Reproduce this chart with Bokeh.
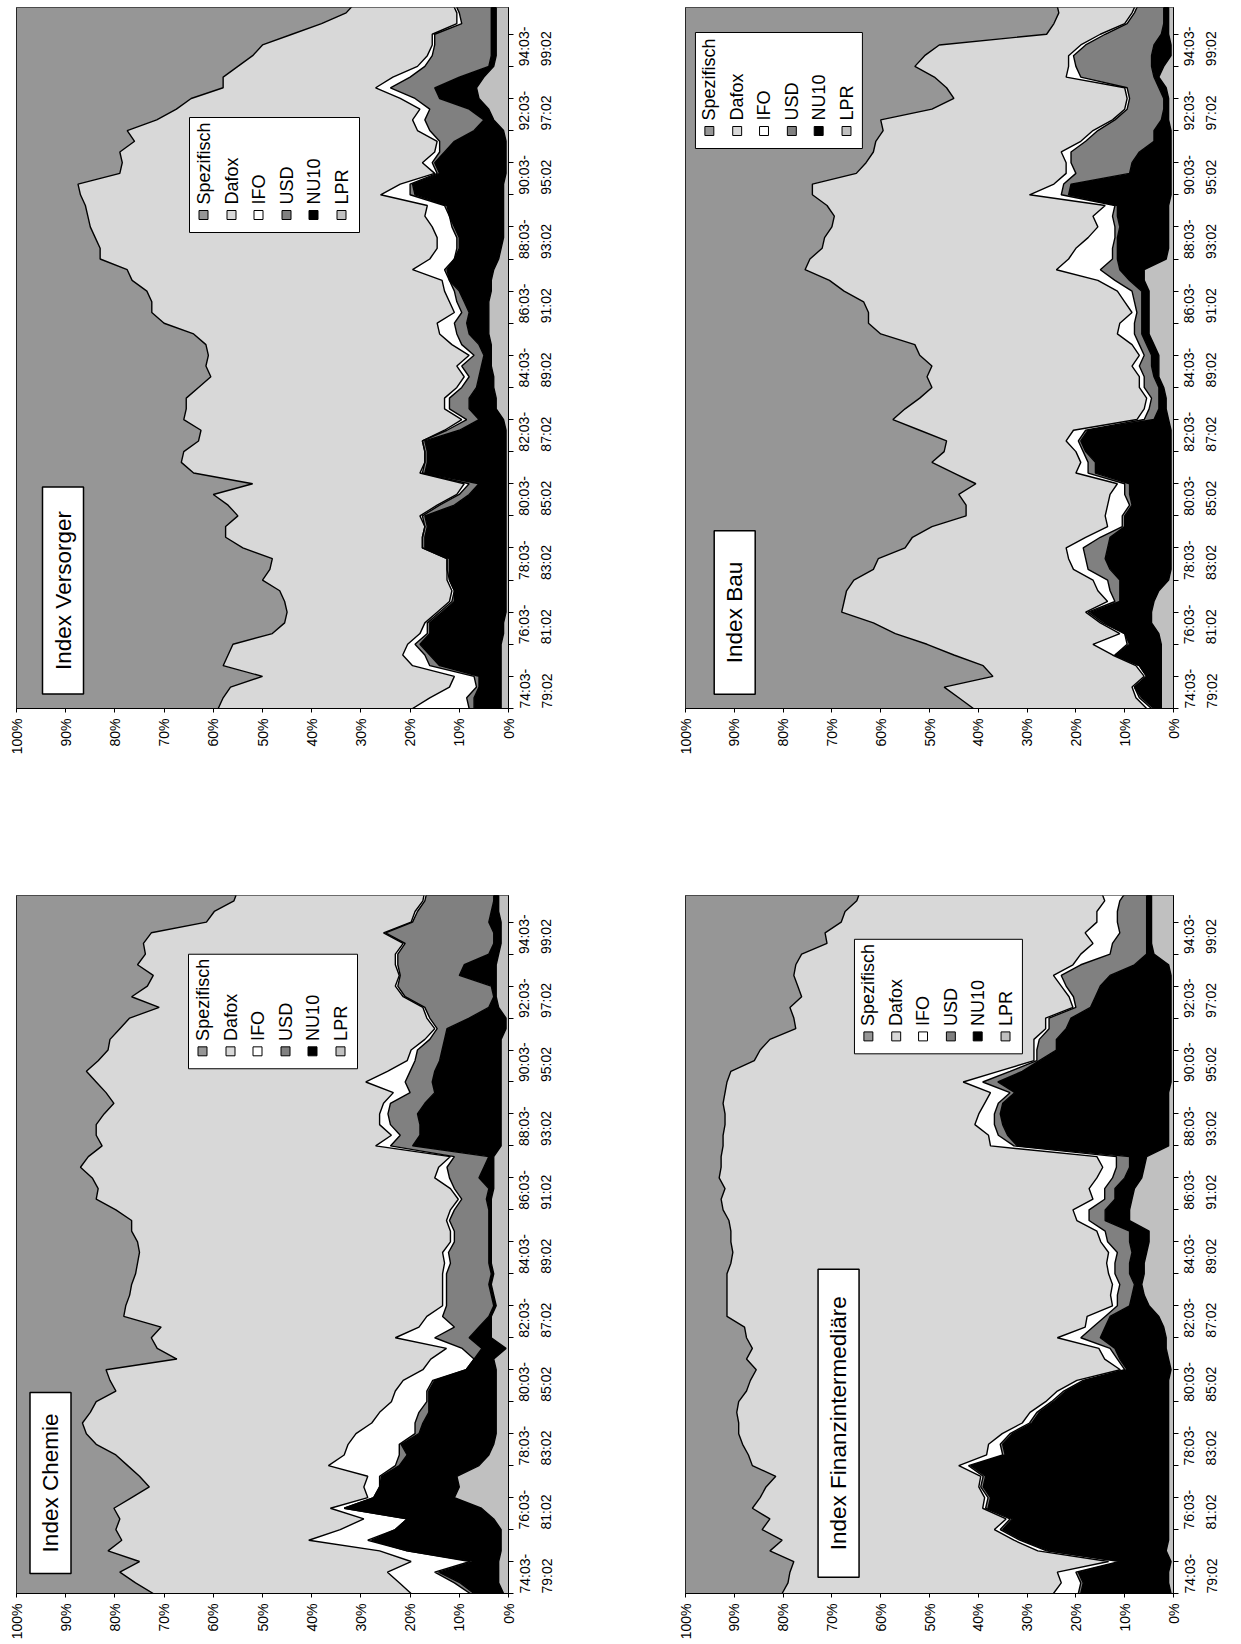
import math
from bokeh.plotting import figure
from bokeh.models import ColumnDataSource, Range1d, FixedTicker, Label, LinearAxis
from bokeh.layouts import column, row
from bokeh.embed import file_html
from bokeh.resources import INLINE

# ---------------------------------------------------------------- data
# rolling 5-year windows, position = months after 1974:03 (window start), every 4 months
window_start = [0, 4, 8, 12, 16, 20, 24, 28, 32, 36, 40, 44, 48, 52, 56, 60, 64, 68, 72, 76,
                80, 84, 88, 92, 96, 100, 104, 108, 112, 116, 120, 124, 128, 132, 136, 140,
                144, 148, 152, 156, 160, 164, 168, 172, 176, 180, 184, 188, 192, 196, 200,
                204, 208, 212, 216, 220, 224, 228, 232, 236, 240, 244, 248, 252, 256, 260, 264]
window_ticks = [0, 12, 24, 36, 48, 60, 72, 84, 96, 108, 120, 132, 144, 156, 168, 180, 192,
                204, 216, 228, 240, 252]
window_labels = {0: "74:03-79:02", 24: "76:03-81:02", 48: "78:03-83:02",
                 72: "80:03-85:02", 96: "82:03-87:02", 120: "84:03-89:02",
                 144: "86:03-91:02", 168: "88:03-93:02", 192: "90:03-95:02",
                 216: "92:03-97:02", 240: "94:03-99:02"}
percent_ticks = [0, 10, 20, 30, 40, 50, 60, 70, 80, 90, 100]
series_names = ["Spezifisch", "Dafox", "IFO", "USD", "NU10", "LPR"]
series_colors = ["#969696", "#d8d8d8", "#ffffff", "#808080", "#000000", "#c0c0c0"]

# Index Versorger (shares in %)
versorger_lpr = [1.5, 1.5, 1.5, 1.5, 1.5, 1.5, 1.5, 1, 1, 0.5,
                 0.5, 0.5, 0.5, 0.5, 0.5, 0.5, 0.5, 0.5, 0.5, 0.5,
                 0.5, 0.5, 0.5, 0.5, 0.5, 0.5, 0.5, 1, 2.5, 2.5,
                 3, 3, 3.5, 3.5, 3.5, 4, 4, 4, 4, 3.5,
                 3.5, 3, 2, 1.5, 1, 1, 1, 1, 1, 1,
                 0.5, 0.5, 0.5, 0.5, 1, 3, 4, 6, 6.5, 5,
                 3, 2.5, 2.5, 2.5, 2.5, 2.5, 2.5]
versorger_nu10 = [5.5, 5.5, 4.5, 4.5, 12.5, 14.5, 16.5, 15, 15, 13,
                  10.5, 10.5, 11.5, 11.5, 11.5, 16.5, 16.5, 16, 16.5, 10.5,
                  7.5, 5.5, 16.5, 16, 16, 16.5, 9.5, 5, 5.5, 5.5,
                  3.5, 3, 2, 1.5, 2.5, 4, 4.5, 4, 5, 6.5,
                  8.5, 9.5, 9, 8.5, 9, 10, 11, 11.5, 18, 18.5,
                  13.5, 14.5, 12.5, 10.5, 6, 2, 4, 8, 8.5, 5,
                  1, 1, 1, 1, 1, 1, 1]
versorger_usd = [1, 1.5, 0.5, 1, 2, 1, 1, 0.5, 0.5, 0.5,
                 0.5, 0, 0, 0.5, 0.5, 0.5, 0.5, 0.5, 0.5, 3,
                 2, 2, 0.5, 0.5, 0.5, 0.5, 2.5, 2.5, 4, 4,
                 3, 2, 4, 2, 3.5, 2.5, 2.5, 1.5, 1.5, 1,
                 0, 0.5, 0, 0.5, 0.5, 0.5, 0, 0.5, 1, 0.5,
                 0.5, 0.5, 1, 3, 9, 12, 8, 5, 9, 10,
                 13, 12, 11.5, 11.5, 6, 6.5, 7.5]
versorger_ifo = [11.5, 7.5, 5.5, 4, 3.5, 4.5, 1.5, 1.5, 0.5, 0.5,
                 0.5, 0.5, 0.5, 0, 0, 0, 0, 0, 0.5, 0.5,
                 0.5, 1, 0.5, 0, 0, 0, 0.5, 1, 1, 1,
                 1, 1, 1, 1, 2, 3.5, 3.5, 1.5, 1.5, 2,
                 1.5, 6.5, 5, 4, 4, 4, 5, 3.5, 6, 2,
                 0.5, 2, 1, 0.5, 2.5, 2.5, 2, 3, 3, 3.5,
                 1.5, 1, 0.5, 0.5, 1, 0.5, 0.5]
versorger_dafox = [39.5, 42, 44.5, 39, 38.5, 35.5, 35.5, 30, 28.5, 30.5,
                   33.5, 35, 37.5, 36, 35.5, 36.5, 40, 40.5, 37, 42.5,
                   49.5, 43, 46, 49.5, 49, 45.5, 49.5, 56.5, 52.5, 52.5,
                   52.5, 51.5, 51, 53, 50, 50, 55.5, 61.5, 60.5, 60.5,
                   63, 58, 67, 68.5, 69.5, 69.5, 68.5, 69.5, 61, 65.5,
                   64, 61, 64, 61.5, 59, 52, 49.5, 42.5, 31, 34.5,
                   36.5, 35.5, 34.5, 28.5, 27.5, 22.5, 19.5]
versorger_spezifisch = [41, 42, 43.5, 50, 42, 43, 44, 52, 54.5, 55,
                        54.5, 53.5, 50, 51.5, 52, 46, 42.5, 42.5, 45, 43,
                        40, 48, 36, 33.5, 34, 37, 37.5, 34, 34.5, 34.5,
                        37, 39.5, 38.5, 39, 38.5, 36, 30, 27.5, 27.5, 26.5,
                        23.5, 22.5, 17, 17, 16, 15, 14.5, 14, 13, 12.5,
                        21, 21.5, 21, 24, 22.5, 28.5, 32.5, 35.5, 42, 42,
                        45, 48, 50, 56, 62, 67, 69]

# Index Bau
bau_lpr = [2.5, 2.5, 2.5, 2.5, 2.5, 2.5, 2.5, 3, 4.5, 4.5,
           4, 3, 1, 0.5, 0.5, 0.5, 0.5, 0.5, 0.5, 0.5,
           0.5, 0.5, 0.5, 0.5, 0.5, 0.5, 0.5, 1, 1.5, 1.5,
           2, 3, 3, 3, 4, 5, 5, 5, 5, 5,
           6, 6, 1.5, 1, 1, 1, 1, 1, 0.5, 0.5,
           0.5, 0.5, 0.5, 0.5, 0.5, 1, 1, 1, 1.5, 3,
           2, 0.5, 0.5, 1, 1, 1, 1]
bau_nu10 = [1.5, 4, 5.5, 3, 4.5, 9.5, 6.5, 7, 9.5, 12.5,
            7, 8, 10, 12.5, 13.5, 13, 12.5, 9.5, 9.5, 8,
            8.5, 8.5, 15.5, 15.5, 17.5, 18.5, 17, 3, 1.5, 1.5,
            1, 1, 1.5, 1.5, 1.5, 1.5, 1.5, 1.5, 1.5, 1.5,
            3, 5, 10, 10.5, 10.5, 10, 10.5, 10.5, 21, 20.5,
            8.5, 8, 6.5, 3.5, 3.5, 1.5, 1, 1, 1.5, 1,
            2.5, 4, 3.5, 1.5, 1, 1, 1]
bau_usd = [0.5, 0.5, 0, 0, 0, 0, 0.5, 0, 0.5, 0.5,
           1, 2, 2.5, 4.5, 4, 5, 2, 0.5, 0.5, 0.5,
           1, 1, 1.5, 1.5, 0.5, 0.5, 0.5, 2, 2, 1.5,
           3, 2, 2.5, 1.5, 1.5, 1.5, 1.5, 1, 1.5, 2,
           3, 4, 1, 1, 0.5, 1, 1, 0.5, 1.5, 1.5,
           11, 12.5, 14, 14, 11.5, 9.5, 7.5, 7, 6.5, 15,
           15.5, 16, 14, 11.5, 7.5, 6, 5]
bau_ifo = [1, 0.7, 0.5, 0.5, 0.7, 0.5, 7, 1, 0.5, 0.5,
           1.5, 2.5, 3, 3, 3.5, 3.5, 3, 3, 3.5, 4.5,
           3, 1.5, 2.5, 1.5, 1.5, 2.5, 2.5, 1.5, 1, 1,
           1, 1, 1.5, 1, 1.5, 3.5, 3, 1, 2, 3,
           3.5, 9, 9, 7.5, 5.5, 3.5, 4, 2, 6.5, 2,
           2, 1, 2, 1, 1, 0.5, 0.5, 0.5, 0.5, 3,
           1.5, 1, 1, 1, 0.5, 0.5, 0.5]
bau_dafox = [35.5, 36.3, 38.5, 31, 31.3, 32.5, 34, 46, 46.5, 50,
             54, 51.5, 49, 41, 39, 33, 35.5, 36, 28.5, 29,
             31, 29, 25, 30.5, 27, 24.5, 31.5, 50, 49, 46.5,
             42.5, 43.5, 41, 45, 44.5, 48.5, 51.5, 54, 53.5, 56,
             55, 51.5, 53, 52, 54, 54.5, 53, 57, 44.5, 49.5,
             43, 41, 38.5, 42, 43, 47.5, 39.5, 35.5, 36.5, 27,
             31.5, 29.5, 29, 11, 14.5, 15, 16.5]
bau_spezifisch = [59, 56, 53, 63, 61, 55, 49.5, 43, 38.5, 32,
                  32.5, 33, 34.5, 38.5, 39.5, 45, 46.5, 50.5, 57.5, 57.5,
                  56, 59.5, 55, 50.5, 53, 53.5, 48, 42.5, 45, 48,
                  50.5, 49.5, 50.5, 48, 47, 40, 37.5, 37.5, 36.5, 32.5,
                  29.5, 24.5, 25.5, 28, 28.5, 30, 30.5, 29, 26, 26,
                  35, 37, 38.5, 39, 40.5, 40, 50.5, 55, 53.5, 51,
                  47, 49, 52, 74, 75.5, 76.5, 76]

# Index Chemie
chemie_lpr = [1, 2, 2, 2, 1.5, 1.5, 1.5, 3, 5.5, 11,
              10, 10.5, 6, 4, 3, 2.5, 2.5, 2.5, 2.5, 2.5,
              2.5, 2.5, 3, 0.5, 3.5, 3.5, 3.5, 2.5, 3, 3.5,
              3, 3.5, 3.5, 3.5, 3.5, 3.5, 3.5, 3.5, 3, 3,
              3, 3, 1.5, 1.5, 1.5, 1.5, 1.5, 1.5, 1.5, 1.5,
              1.5, 1.5, 1.5, 0.5, 0.5, 2, 2.5, 2.5, 2.5, 2.5,
              2, 1.5, 1.5, 1.5, 2, 2, 2]
chemie_nu10 = [6, 7.8, 12.2, 5, 19.1, 26.3, 21.5, 17.6, 27.9, 16.4,
               16.2, 15.3, 16.2, 16.6, 18.8, 15.7, 14.9, 13.7, 13.7, 13.7,
               12.5, 6.1, 4, 4.9, 4.5, 2.5, 0.5, 0.5, 0.5, 0.5,
               0.5, 0.5, 0.5, 0.5, 0.5, 0.5, 0.5, 1, 1, 3,
               2, 1, 18, 16.5, 16.5, 17, 15.5, 13.5, 14, 13.5,
               12.5, 12, 11.5, 12, 7.5, 2, 0.5, 1, 7.5, 6.5,
               2, 1.5, 1.5, 2.5, 1.5, 1, 1]
chemie_usd = [0.8, 1.2, 0.8, 0.8, 0, 0.8, 0, 0, 0, 0,
              0, 0.4, 0.8, 1.6, 0.4, 0.8, 1.6, 2, 0.4, 0.4,
              0.4, 0, 0, 4, 7, 5, 9.4, 9.6, 9.1, 8.6,
              9.1, 7.8, 8.2, 7, 7, 8, 7, 5, 7, 6,
              7.5, 7, 4.5, 4, 6, 6, 7, 5, 5.5, 5,
              5, 5, 3, 2, 8, 13, 18, 19, 12, 13.5,
              18.5, 18, 22, 15.5, 15, 14, 13.5]
chemie_ifo = [12, 11.2, 9.6, 12, 5.6, 12, 11.2, 8.8, 2.8, 1.2,
              3.2, 2.4, 13.6, 11.2, 10.4, 12, 8.8, 8, 7.2, 6.4,
              6, 8.8, 8.8, 3.2, 8, 7.2, 3.2, 0.8, 0.8, 0.8,
              0.8, 1.2, 1.2, 0.8, 0.8, 0.6, 0.8, 0.7, 0.8, 3,
              1.7, 0.8, 3, 1.8, 2.2, 1.7, 1.4, 3.4, 8, 4.6,
              1.6, 1.3, 1, 0.5, 0.6, 0.4, 0.4, 0.5, 0.2, 0.5,
              0.5, 0.4, 0.4, 0.3, 0.5, 0.4, 0.5]
chemie_dafox = [52.4, 53.6, 54.4, 55.2, 55.2, 38, 45.6, 49.6, 44, 48,
                43.6, 46.4, 40.8, 46.4, 51.2, 54.8, 58.8, 58.8, 60, 56.8,
                59.6, 64.4, 51.6, 58.8, 49.6, 52.4, 61.6, 64.4, 63.6, 63.2,
                62.4, 62.4, 61.6, 63.6, 64.8, 64, 68, 73.6, 71.6, 69.6,
                72.8, 73.6, 55.6, 60, 57.6, 56, 54.8, 58.4, 54.8, 61.2,
                62.8, 61.6, 64, 64, 60.4, 53.6, 55.2, 50.4, 50, 52.4,
                50.8, 52.8, 47.2, 41.6, 40.8, 38.4, 38]
chemie_spezifisch = [27.8, 24.2, 21, 25, 18.6, 21.4, 20.2, 21, 19.8, 23.4,
                     27, 25, 22.6, 20.2, 16.2, 14.2, 13.4, 15, 16.2, 20.2,
                     19, 18.2, 32.6, 28.6, 27.4, 29.4, 21.8, 22.2, 23, 23.4,
                     24.2, 24.6, 25, 24.6, 23.4, 23.4, 20.2, 16.2, 16.6, 15.4,
                     13, 14.6, 17.4, 16.2, 16.2, 17.8, 19.8, 18.2, 16.2, 14.2,
                     16.6, 18.6, 19, 21, 23, 29, 23.4, 26.6, 27.8, 24.6,
                     26.2, 25.8, 27.4, 38.6, 40.2, 44.2, 45]

# Index Finanzintermediäre
finanz_lpr = [0.5, 1, 1, 0.5, 1.5, 1, 1, 1, 1, 1,
              1, 1, 1, 1, 1, 1, 1, 1, 1, 1,
              1, 0.5, 1, 1.5, 1.5, 2, 3, 5, 6, 6.5,
              6, 6, 5.5, 5, 5, 9, 9, 8.5, 8, 6.5,
              6, 5.5, 1, 1, 1, 1, 1, 1, 0.5, 0.5,
              0.5, 0.5, 0.5, 0.5, 0.5, 0.5, 0.5, 0.5, 0.5, 1,
              4, 4.5, 4.5, 4.5, 4.5, 4.5, 4.5]
finanz_nu10 = [18.5, 17.5, 18.5, 10, 24, 30, 34, 32, 37, 36.5,
               38, 37.5, 40.5, 33.5, 34, 32, 28, 26.5, 23.5, 21,
               17, 9, 10, 10.5, 13.5, 12, 10, 4, 2.5, 1.5,
               3, 3, 3, 4, 4, 5, 5, 3.5, 4, 3.5,
               3, 3.5, 31, 33, 34, 34.5, 34, 31.5, 35.5, 30.5,
               27, 23.5, 23.5, 21.5, 20.5, 16.5, 15.5, 14.5, 12.5, 7,
               1.5, 1, 1, 1, 1, 1, 1]
finanz_usd = [0.5, 0.5, 0.5, 0.5, 0.5, 0.5, 0.5, 0.5, 0.5, 0.5,
              0.5, 0.5, 0.5, 0.5, 0.5, 0.5, 0.5, 0.5, 0.5, 0.5,
              0.5, 0.5, 0.5, 1, 4, 2.5, 1, 2.5, 3, 3,
              3, 3, 3, 4.5, 5, 3.3, 3.3, 2.1, 2.1, 2.5,
              2.7, 2.7, 0.7, 1.9, 1.7, 1.2, 0.9, 1, 3.1, 2.5,
              0.5, 4, 3.5, 3.5, 4.5, 3, 4.5, 7, 10, 11,
              7.5, 7, 5.5, 6, 6, 5.5, 4]
finanz_ifo = [5.1, 4, 3.8, 2.3, 1.8, 1.2, 1.2, 0.8, 0.6, 0.7,
              0.4, 0.5, 2, 3.3, 2.4, 1.6, 1.5, 1.4, 1.2, 1.3,
              1.3, 0.9, 2.6, 2.3, 4.8, 1.6, 3.7, 1, 1.4, 1.5,
              1.3, 1.7, 1.8, 1.4, 1.7, 2.5, 3.3, 2.4, 3.2, 3.2,
              2.8, 4, 4.8, 2, 4, 3.2, 2.8, 4, 4, 2.4,
              0.6, 0.6, 1.1, 0.7, 0.7, 0.6, 0.9, 1, 1.6, 1.6,
              6, 4, 7.1, 4.2, 4.2, 3.1, 5.4]
finanz_dafox = [55.6, 56, 54.8, 64.5, 54.9, 47.5, 47.6, 48.4, 47.2, 46,
                43.6, 42, 42.3, 48.8, 50.4, 54, 58.1, 60.1, 62.9, 63.7,
                66.9, 74.6, 73.4, 71, 63.7, 69.8, 73.8, 79, 78.6, 79,
                78.2, 77, 77, 75.8, 75, 71.3, 71.7, 76.2, 74.6, 77.4,
                78.2, 77, 54.8, 54.4, 51.2, 52, 53.6, 54.4, 48.4, 54.8,
                57.3, 56.1, 54.1, 51.2, 51.6, 58, 54.8, 54, 53.2, 56.8,
                57.2, 54.5, 53.3, 52.4, 51.6, 50.8, 49.2]
finanz_spezifisch = [19.8, 21, 21.4, 22.2, 17.3, 19.8, 15.7, 17.3, 13.7, 15.3,
                     16.5, 18.5, 13.7, 12.9, 11.7, 10.9, 10.9, 10.5, 10.9, 12.5,
                     13.3, 14.5, 12.5, 13.7, 12.5, 12.1, 8.5, 8.5, 8.5, 8.5,
                     8.5, 9.3, 9.7, 9.3, 9.3, 8.9, 7.7, 7.3, 8.1, 6.9,
                     7.3, 7.3, 7.7, 7.7, 8.1, 8.1, 7.7, 8.1, 8.5, 9.3,
                     14.1, 15.3, 17.3, 22.6, 22.2, 21.4, 23.8, 23, 22.2, 22.6,
                     23.8, 29, 28.6, 31.9, 32.7, 35.1, 35.9]

# ---------------------------------------------------------------- drawing
FONT = "Liberation Sans"
T_MAX = 262
STACK_KEYS = ["lpr", "nu10", "usd", "ifo", "dafox", "spez"]
STACK_COLORS = ["#c0c0c0", "#000000", "#808080", "#ffffff", "#d8d8d8", "#969696"]
LEGEND_OFFSETS = [14, 42, 69, 97, 124, 152]


def label_part(t, part):
    if t not in window_labels:
        return ""
    first, second = window_labels[t].split("-")
    return first + "-" if part == 0 else second


def style_axis(ax, size):
    ax.major_label_orientation = math.pi / 2
    ax.major_label_text_font = FONT
    ax.major_label_text_font_size = size
    ax.major_label_text_color = "black"
    ax.major_tick_in = 0
    ax.minor_tick_out = 0
    ax.minor_tick_in = 0
    ax.axis_line_color = "black"
    ax.major_tick_line_color = "black"


def panel(title, lpr, nu10, usd, ifo, dafox, spez, width, height, bl, br, bt, bb,
          title_px, title_pad, legend_px):
    fw = width - bl - br
    fh = height - bt - bb

    def X(px):
        return 100 - px * 100.0 / fw

    def Y(py):
        return T_MAX - py * T_MAX / fh

    p = figure(width=width, height=height, x_range=Range1d(100, 0), y_range=Range1d(0, T_MAX),
               y_axis_location="right", output_backend="svg", toolbar_location=None,
               min_border_left=bl, min_border_right=br, min_border_top=bt, min_border_bottom=bb)
    p.xgrid.visible = False
    p.ygrid.visible = False
    p.outline_line_color = "black"
    p.outline_line_width = 1
    p.background_fill_color = "white"
    p.border_fill_color = "white"

    src = ColumnDataSource(dict(t=window_start, lpr=lpr, nu10=nu10, usd=usd, ifo=ifo,
                                dafox=dafox, spez=spez))
    p.harea_stack(STACK_KEYS, y="t", fill_color=STACK_COLORS, source=src)
    p.hline_stack(STACK_KEYS[:-1], y="t", line_color="black", line_width=1.4, source=src)

    xa = p.xaxis[0]
    xa.ticker = FixedTicker(ticks=percent_ticks, minor_ticks=[])
    xa.major_label_overrides = {v: "%d%%" % v for v in percent_ticks}
    style_axis(xa, "14px")
    xa.major_label_standoff = 6
    xa.major_tick_out = 4

    # time axis: first line of the window label
    ya = p.yaxis[0]
    ya.ticker = FixedTicker(ticks=window_ticks, minor_ticks=[])
    ya.major_label_overrides = {t: label_part(t, 0) for t in window_ticks}
    style_axis(ya, "14px")
    ya.major_label_standoff = 11
    ya.major_tick_out = 5

    # second line of the window label
    ya2 = LinearAxis(ticker=FixedTicker(ticks=window_ticks, minor_ticks=[]))
    ya2.major_label_overrides = {t: label_part(t, 1) for t in window_ticks}
    style_axis(ya2, "14px")
    ya2.axis_line_color = None
    ya2.major_tick_line_color = None
    ya2.major_tick_out = 0
    ya2.major_label_standoff = 3
    p.add_layout(ya2, "right")

    # title box
    tx, ty = title_px
    p.add_layout(Label(x=X(tx), y=Y(ty), text=title, angle=math.pi / 2,
                       text_align="center", text_baseline="middle",
                       text_font=FONT, text_font_size="22.5px", text_color="black",
                       background_fill_color="white", border_line_color="black",
                       border_line_width=1.5, padding=(title_pad, 8)))

    # legend
    l0, t0, r0, b0 = legend_px
    p.quad(left=[X(l0)], right=[X(r0)], top=[Y(t0)], bottom=[Y(b0)],
           fill_color="white", line_color="black", line_width=1)
    for name, color, off in zip(series_names, series_colors, LEGEND_OFFSETS):
        cx = l0 + off
        p.quad(left=[X(cx - 4.5)], right=[X(cx + 4.5)], top=[Y(b0 - 22)], bottom=[Y(b0 - 13)],
               fill_color=color, line_color="black", line_width=1)
        p.add_layout(Label(x=X(cx), y=Y(b0 - 28), text=name, angle=math.pi / 2,
                           text_align="left", text_baseline="middle",
                           text_font=FONT, text_font_size="18px", text_color="black"))
    return p


p_versorger = panel("Index Versorger", versorger_lpr, versorger_nu10, versorger_usd,
                    versorger_ifo, versorger_dafox, versorger_spezifisch,
                    615, 818, 16, 107, 7, 110, (46.5, 583), 24, (173, 110, 343, 225))
p_bau = panel("Index Bau", bau_lpr, bau_nu10, bau_usd, bau_ifo, bau_dafox, bau_spezifisch,
              615, 818, 70, 54, 7, 110, (49.5, 605), 31, (10, 25, 178, 141))
p_chemie = panel("Index Chemie", chemie_lpr, chemie_nu10, chemie_usd, chemie_ifo,
                 chemie_dafox, chemie_spezifisch,
                 615, 824, 16, 107, 77, 46, (34, 590), 21, (172, 59, 341, 174))
p_finanz = panel("Index Finanzintermediäre", finanz_lpr, finanz_nu10, finanz_usd, finanz_ifo,
                 finanz_dafox, finanz_spezifisch,
                 615, 824, 70, 54, 77, 46, (154, 530), 27, (170, 44, 339, 159))

layout = column(row(p_versorger, p_bau), row(p_chemie, p_finanz))
open("out.html", "w").write(file_html(layout, INLINE))
